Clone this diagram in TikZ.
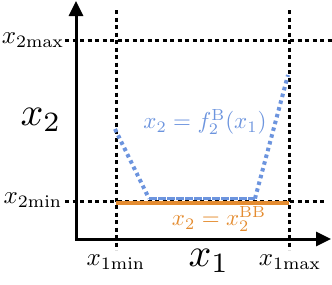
\documentclass[tikz,border=0pt]{standalone}
\usetikzlibrary{arrows.meta}
\definecolor{lblue}{RGB}{108,148,222}
\definecolor{lorange}{RGB}{228,140,48}
\begin{document}
\begin{tikzpicture}[x=1pt,y=-1pt,
  axis/.style={line width=3pt, {Triangle[length=15pt,width=14pt]}-{Triangle[length=15pt,width=14pt]}},
  guide/.style={line width=3pt, dash pattern=on 4pt off 3.5pt},
  bdot/.style={lblue, line width=4pt, dash pattern=on 3.5pt off 3.5pt},
  bline/.style={lblue, line width=3pt, dash pattern=on 8pt off 1pt},
  oline/.style={lorange, line width=4pt},
  lab/.style={inner sep=0pt, scale=2.5},
  big/.style={inner sep=0pt, scale=4}]
\useasboundingbox (0,0) rectangle (332,284);
% coordinates
\coordinate (Ytop) at (76,1);
\coordinate (O) at (76,239);
\coordinate (Xend) at (331,239);
\coordinate (v1t) at (116,10);
\coordinate (v1b) at (116,250);
\coordinate (v2t) at (289,10);
\coordinate (v2b) at (289,250);
\coordinate (h1l) at (65,40);
\coordinate (h1r) at (332,40);
\coordinate (h2l) at (65,201);
\coordinate (h2r) at (324,201);
\coordinate (o1) at (116,203);
\coordinate (o2) at (289,203);
\coordinate (b0) at (115,129);
\coordinate (b1) at (149,198.5);
\coordinate (b2) at (255,198.5);
\coordinate (b3) at (288,75);
% guides
\draw[guide] (v1t) -- (v1b);
\draw[guide] (v2t) -- (v2b);
\draw[guide] (h1l) -- (h1r);
\draw[guide] (h2l) -- (h2r);
% curves
\draw[oline] (o1) -- (o2);
\draw[bline] (b1) -- (b2);
\draw[bdot] (b0) -- (b1);
\draw[bdot] (b2) -- (b3);
% axes
\draw[axis] (Ytop) -- (O) -- (Xend);
% labels
\node[lab] (lx2max) at (33,40) {$x_{2\mathrm{max}}$};
\node[lab] (lx2min) at (33,200) {$x_{2\mathrm{min}}$};
\node[lab] (lx1min) at (116,262) {$x_{1\mathrm{min}}$};
\node[lab] (lx1max) at (290,262) {$x_{1\mathrm{max}}$};
\node[big] (lx2) at (41,120) {$x_2$};
\node[big] (lx1) at (209,261) {$x_1$};
\node[lab, text=lblue, scale=0.92] (lf) at (205,122) {$x_2=f_2^{\mathrm{B}}(x_1)$};
\node[lab, text=lorange, scale=0.92] (lbb) at (219,219) {$x_2=x_2^{\mathrm{BB}}$};
\end{tikzpicture}
\end{document}
